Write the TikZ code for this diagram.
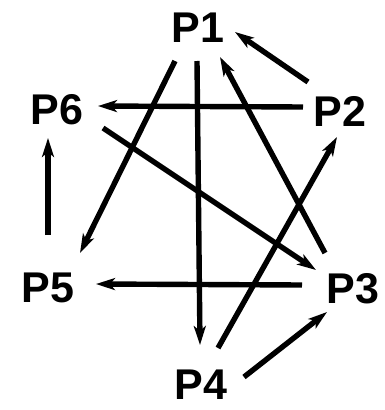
\documentclass[tikz,border=0pt]{standalone}
\usepackage{fontspec}
\setmainfont{Liberation Sans}
\usetikzlibrary{arrows.meta}

\begin{document}
\begin{tikzpicture}[
  x=1pt, y=-1pt,
  proc/.style={inner sep=0pt, font=\fontsize{43}{43}\selectfont\bfseries},
  arr/.style={-{Stealth[length=19pt,width=12pt,inset=5pt]}, line width=5.4pt}
]
  \useasboundingbox (0,0) rectangle (385,410);
  \node[proc] (P1) at (198,28)  {P1};
  \node[proc] (P2) at (340,111) {P2};
  \node[proc] (P3) at (353,289) {P3};
  \node[proc] (P4) at (201,385) {P4};
  \node[proc] (P5) at (48,288)  {P5};
  \node[proc] (P6) at (57,110)  {P6};
  % tail node / offset, head node / offset
  \foreach \a/\ax/\ay/\b/\bx/\by in {
      P2/-32/-29/P1/37/4,
      P3/-28/-36/P1/22/29,
      P1/-1/33/P4/-1/-40,
      P1/-23/33/P5/32/-35,
      P2/-37/-4/P6/41/-4,
      P6/46/18/P3/-37/-19,
      P3/-51/-4/P5/48/-4,
      P4/17/-37/P2/-3/26,
      P4/43/-8/P3/-26/23,
      P5/0/-53/P6/-9/28}
    \draw[arr] ([shift={(\ax,\ay)}]\a.center) -- ([shift={(\bx,\by)}]\b.center);
\end{tikzpicture}
\end{document}
